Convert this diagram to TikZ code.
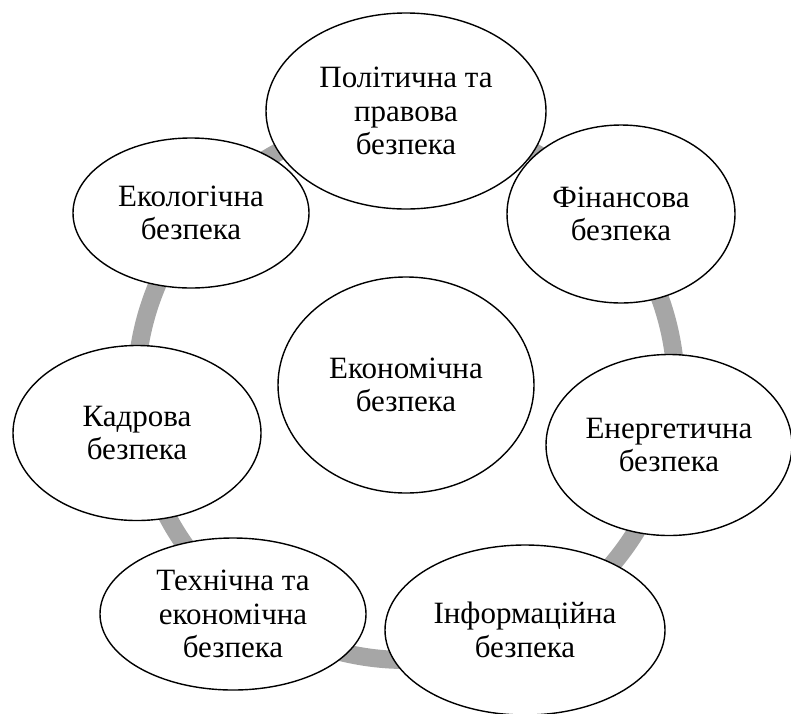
\documentclass[tikz,border=0pt]{standalone}
\usepackage{fontspec}
\setmainfont{Liberation Serif}
\usetikzlibrary{shapes.geometric}
\definecolor{ringgray}{HTML}{A6A6A6}
\begin{document}
\begin{tikzpicture}[x=1pt,y=-1pt,
  bubble/.style={ellipse, draw=black, line width=1.4pt, fill=white, inner sep=0pt,
    align=center, font=\fontsize{31}{33.5}\selectfont},
  ringstyle/.style={circle, draw=ringgray, line width=18pt, minimum size=540pt, inner sep=0pt}]
\useasboundingbox (0,0) rectangle (791,713);
\node[ringstyle] (ring) at (406,390) {};
\node[bubble, minimum width=280pt, minimum height=196pt] (pol) at (406,111) {Політична та\\правова\\безпека};
\node[bubble, minimum width=228pt, minimum height=178pt] (fin) at (621,214) {Фінансова\\безпека};
\node[bubble, minimum width=246pt, minimum height=181pt] (ener) at (669,445) {Енергетична\\безпека};
\node[bubble, minimum width=280pt, minimum height=170pt] (info) at (525,630) {Інформаційна\\безпека};
\node[bubble, minimum width=266pt, minimum height=152pt] (tech) at (233,614) {Технічна та\\економічна\\безпека};
\node[bubble, minimum width=248pt, minimum height=175pt] (kadr) at (137,433) {Кадрова\\безпека};
\node[bubble, minimum width=236pt, minimum height=150pt] (eco) at (191,213) {Екологічна\\безпека};
\node[bubble, minimum width=256pt, minimum height=216pt] (econ) at (406,385) {Економічна\\безпека};
\end{tikzpicture}
\end{document}
